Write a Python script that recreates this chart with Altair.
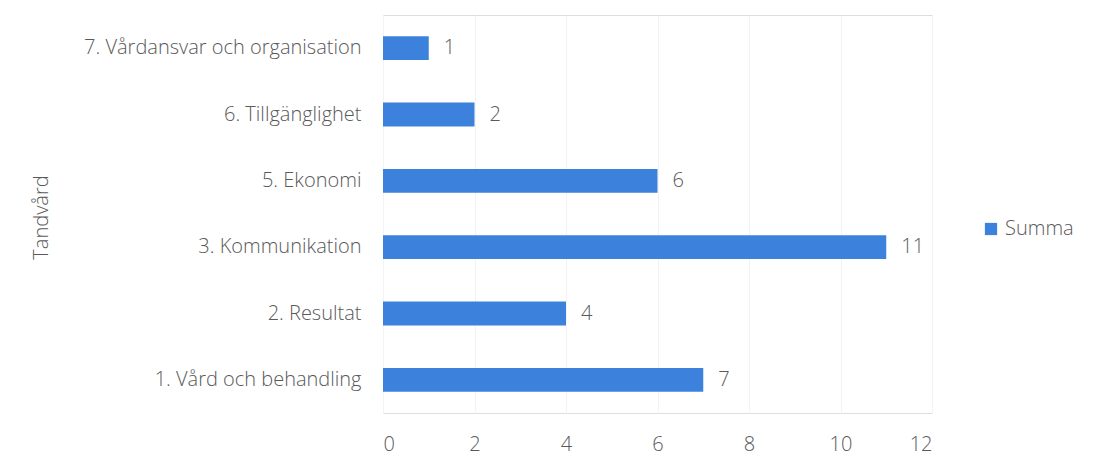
import altair as alt
import pandas as pd

categories = ["7. Vårdansvar och organisation", "6. Tillgänglighet", "5. Ekonomi",
              "3. Kommunikation", "2. Resultat", "1. Vård och behandling"]
values = [1, 2, 6, 11, 4, 7]
series = ["Summa"] * len(categories)
x_ticks = [0, 2, 4, 6, 8, 10, 12]

df = pd.DataFrame({"cat": categories, "val": values, "serie": series})

FONT = "Open Sans"
GREY = "#595959"
BLUE = "#3C82DC"
FS = 20
FW = 300

base = alt.Chart(df).encode(
    y=alt.Y("cat:N", sort=categories,
            scale=alt.Scale(paddingInner=0.64, paddingOuter=0.32),
            axis=alt.Axis(title="Tandvård", domain=False, ticks=False,
                          labelPadding=22, labelFontSize=FS, labelColor=GREY,
                          labelFont=FONT, labelFontWeight=FW,
                          titleFont=FONT, titleFontSize=FS,
                          titleColor=GREY, titleFontWeight=FW,
                          titleX=-332, titleY=202, titleAngle=270,
                          titleAlign="center", titleBaseline="bottom",
                          labelLimit=400)),
)

bars = base.mark_bar(color=BLUE).encode(
    x=alt.X("val:Q", scale=alt.Scale(domain=[0, 12]),
            axis=alt.Axis(values=x_ticks, title=None, domain=False, ticks=False,
                          grid=True, gridColor="#f3f3f3", labelPadding=21,
                          labelFontSize=FS, labelColor=GREY, labelFont=FONT,
                          labelFontWeight=FW)),
    color=alt.Color("serie:N", scale=alt.Scale(range=[BLUE]),
                    legend=alt.Legend(title=None, orient="none", legendX=598,
                                      legendY=204, symbolType="square",
                                      symbolSize=150, labelFontSize=FS,
                                      labelColor=GREY, labelFont=FONT,
                                      labelFontWeight=FW, labelOffset=4,
                                      symbolStrokeWidth=0)),
)

labels = base.mark_text(align="left", baseline="middle", dx=15, fontSize=FS,
                        font=FONT, fontWeight=FW, color=GREY).encode(
    x=alt.X("val:Q"),
    text=alt.Text("val:Q"),
)

chart = (bars + labels).properties(
    width=549, height=398,
    autosize=alt.AutoSizeParams(type="none"),
    padding={"left": 375, "top": 7, "right": 150, "bottom": 45},
).configure_view(stroke=None).configure(background="white")

chart.save("out.html", embed_options={"renderer": "svg", "actions": False})
